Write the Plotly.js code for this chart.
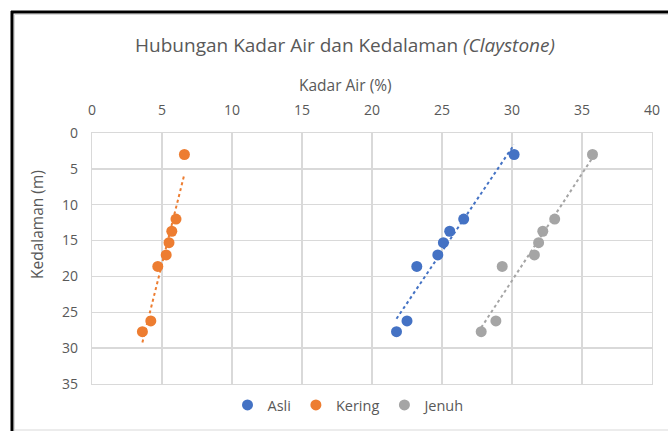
<!DOCTYPE html>
<html>
<head>
<meta charset="utf-8">
<script src="https://cdn.plot.ly/plotly-3.0.1.min.js"></script>
<style>
html,body{margin:0;padding:0;background:#fff;}
#chart{width:668px;height:431px;}
</style>
</head>
<body>
<div id="chart"></div>
<script>
// Data
const depth = [3, 12, 13.7, 15.3, 17, 18.6, 26.2, 27.7];
const asli = [30.15, 26.55, 25.55, 25.1, 24.7, 23.2, 22.5, 21.75];
const kering = [6.6, 6.0, 5.7, 5.5, 5.3, 4.7, 4.2, 3.6];
const jenuh = [35.75, 33.05, 32.2, 31.9, 31.6, 29.3, 28.85, 27.8];
const seriesNames = ['Asli', 'Kering', 'Jenuh'];
const seriesColors = ['#4472C4', '#ED7D31', '#A5A5A5'];
const xTicks = [0, 5, 10, 15, 20, 25, 30, 35, 40];
const yTicks = [0, 5, 10, 15, 20, 25, 30, 35];

function trend(xs, ys) {
  const n = xs.length;
  const mx = xs.reduce((a, b) => a + b, 0) / n;
  const my = ys.reduce((a, b) => a + b, 0) / n;
  let sxy = 0, sxx = 0;
  for (let i = 0; i < n; i++) { sxy += (xs[i] - mx) * (ys[i] - my); sxx += (xs[i] - mx) ** 2; }
  const b = sxy / sxx, a = my - b * mx;
  const x0 = Math.min(...xs), x1 = Math.max(...xs);
  return { x: [x0, x1], y: [a + b * x0, a + b * x1] };
}

const allX = [asli, kering, jenuh];
const traces = [];
allX.forEach((xs, i) => {
  const t = trend(xs, depth);
  traces.push({
    x: t.x, y: t.y, type: 'scatter', mode: 'lines', showlegend: false, hoverinfo: 'skip',
    line: { color: seriesColors[i], width: 2, dash: 'dot' }
  });
});
allX.forEach((xs, i) => {
  traces.push({
    x: xs, y: depth, type: 'scatter', mode: 'markers', name: seriesNames[i],
    marker: { color: seriesColors[i], size: 11 }, cliponaxis: false
  });
});

const W = 668 - 92 - 16, H = 431 - 133 - 47;
const px = v => (v - 92) / W;
const py = v => 1 - (v - 133) / H;
const txt = '#595959';

const layout = {
  width: 668, height: 431,
  margin: { l: 92, r: 16, t: 133, b: 47, autoexpand: false },
  paper_bgcolor: '#fff', plot_bgcolor: '#fff',
  font: { family: 'Open Sans, sans-serif', color: txt, size: 14 },
  title: { text: 'Hubungan Kadar Air dan Kedalaman <i>(Claystone)</i>', x: 345 / 668, xanchor: 'center', y: 1 - 45 / 431, yanchor: 'middle',
    font: { size: 19, color: txt } },
  xaxis: {
    side: 'top', range: [0, 40], tickvals: xTicks, ticktext: xTicks.map(String),
    showgrid: true, gridcolor: '#D9D9D9', gridwidth: 1.3, zeroline: false,
    showline: true, linecolor: '#D9D9D9', linewidth: 1.3, mirror: true,
    ticks: 'outside', ticklen: 11, tickcolor: 'rgba(0,0,0,0)',
    tickfont: { size: 14, color: txt }
  },
  yaxis: {
    range: [35, 0], tickvals: yTicks, ticktext: yTicks.map(String),
    showgrid: true, gridcolor: '#D9D9D9', gridwidth: 1.3, zeroline: false,
    showline: true, linecolor: '#D9D9D9', linewidth: 1.3, mirror: true,
    ticks: 'outside', ticklen: 10, tickcolor: 'rgba(0,0,0,0)',
    tickfont: { size: 14, color: txt }
  },
  annotations: [
    { text: 'Kadar Air (%)', xref: 'paper', yref: 'paper', x: px(345.5), y: py(85), xanchor: 'center', yanchor: 'middle',
      showarrow: false, font: { size: 15.5, color: txt } },
    { text: 'Kedalaman (m)', xref: 'paper', yref: 'paper', x: px(37), y: py(225), xanchor: 'center', yanchor: 'middle',
      textangle: -90, showarrow: false, font: { size: 15.5, color: txt } }
  ],
  legend: {
    orientation: 'h', x: px(349), xanchor: 'center', y: py(405), yanchor: 'middle',
    font: { size: 14.5, color: txt }, itemwidth: 30, tracegroupgap: 0
  },
  shapes: [
    { type: 'line', xref: 'paper', yref: 'paper', x0: px(12), x1: px(12), y0: py(431), y1: py(11), line: { color: '#000', width: 3 } },
    { type: 'line', xref: 'paper', yref: 'paper', x0: px(11), x1: px(668), y0: py(12), y1: py(12), line: { color: '#000', width: 3 } },
    { type: 'line', xref: 'paper', yref: 'paper', x0: px(14.5), x1: px(668), y0: py(14.5), y1: py(14.5), line: { color: '#D9D9D9', width: 1 } },
    { type: 'line', xref: 'paper', yref: 'paper', x0: px(14.5), x1: px(14.5), y0: py(431), y1: py(14.5), line: { color: '#D9D9D9', width: 1 } },
    { type: 'line', xref: 'paper', yref: 'paper', x0: px(14.5), x1: px(668), y0: py(430), y1: py(430), line: { color: '#D9D9D9', width: 1 } }
  ]
};

Plotly.newPlot('chart', traces, layout, { displayModeBar: false, staticPlot: true });
</script>
</body>
</html>
